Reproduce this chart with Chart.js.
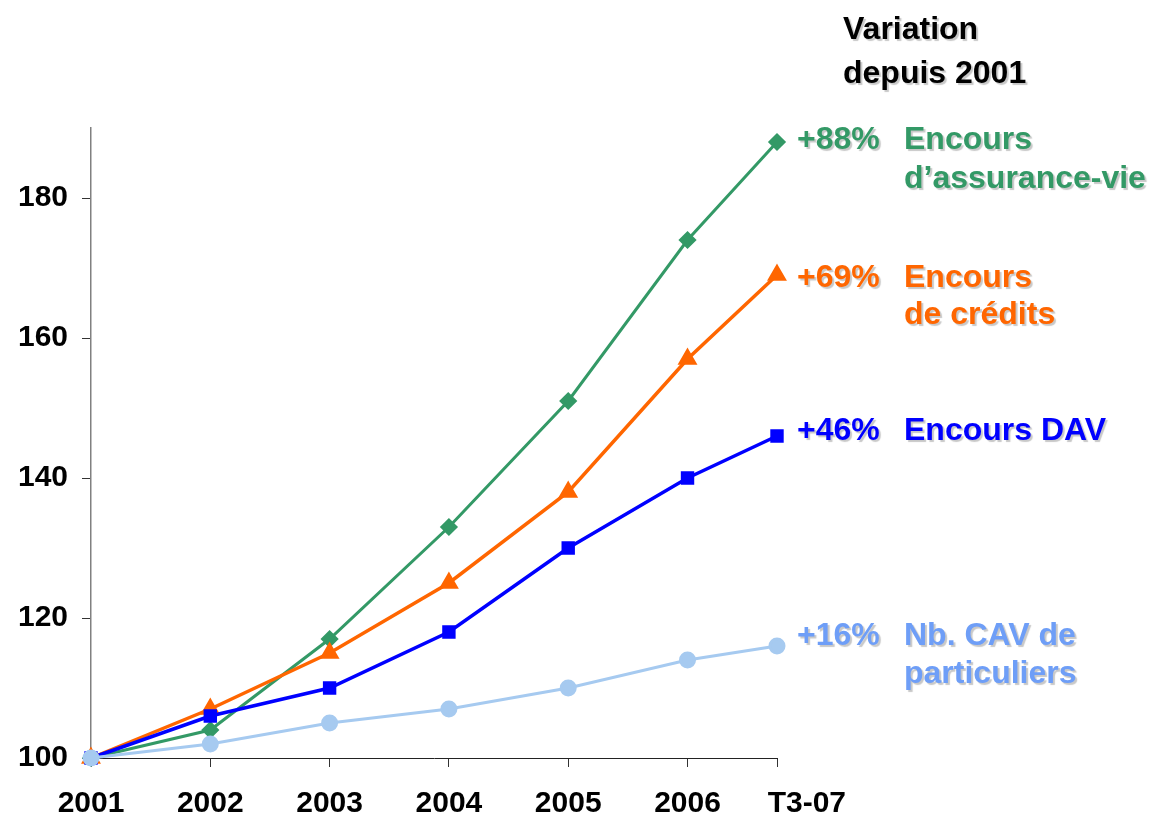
<!DOCTYPE html>
<html>
<head>
<meta charset="utf-8">
<script src="https://cdn.jsdelivr.net/npm/chart.js@4/dist/chart.umd.min.js"></script>
<style>
  html, body { margin: 0; padding: 0; background: #fff; }
  #wrap { width: 1149px; height: 820px; position: relative; }
</style>
</head>
<body>
<div id="wrap"><canvas id="c" width="1149" height="820"></canvas></div>
<script>
// ---- data ----
const periodLabels = ['2001', '2002', '2003', '2004', '2005', '2006', 'T3-07'];
const periodYears = [2001, 2002, 2003, 2004, 2005, 2006, 2006.75];
const assuranceVie = [100, 104, 117, 133, 151, 174, 188];
const credits = [100, 107, 115, 125, 138, 157, 169];
const dav = [100, 106, 110, 118, 130, 140, 146];
const nbCav = [100, 102, 105, 107, 110, 114, 116];
const yTicks = [100, 120, 140, 160, 180];
// x-axis tick marks sit at the data periods; labels sit on an even yearly grid
const xTickValues = [2001, 2002, 2003, 2004, 2005, 2006, 2006.75, 2007];
const xTickLabels = ['2001', '2002', '2003', '2004', '2005', '2006', '', 'T3-07'];

const FONT = '"Liberation Sans", Arial, sans-serif';

function pts(vals) { return vals.map((v, i) => ({ x: periodYears[i], y: v })); }

const annotations = [
  { text: 'Variation', x: 843, y: 39, color: '#000000' },
  { text: 'depuis 2001', x: 843, y: 83, color: '#000000' },
  { text: '+88%', x: 797, y: 149, color: '#339966' },
  { text: 'Encours', x: 904, y: 149, color: '#339966' },
  { text: 'd\u2019assurance-vie', x: 904, y: 188, color: '#339966' },
  { text: '+69%', x: 797, y: 287, color: '#FF6600' },
  { text: 'Encours', x: 904, y: 287, color: '#FF6600' },
  { text: 'de crédits', x: 904, y: 324, color: '#FF6600' },
  { text: '+46%', x: 797, y: 440, color: '#0000FF' },
  { text: 'Encours DAV', x: 904, y: 440, color: '#0000FF' },
  { text: '+16%', x: 797, y: 645, color: '#6E9EF7' },
  { text: 'Nb. CAV de', x: 904, y: 645, color: '#6E9EF7' },
  { text: 'particuliers', x: 904, y: 683, color: '#6E9EF7' }
];

const textPlugin = {
  id: 'annot',
  afterDraw(chart) {
    const ctx = chart.ctx;
    ctx.save();
    ctx.font = 'bold 32px ' + FONT;
    ctx.textAlign = 'left';
    ctx.textBaseline = 'alphabetic';
    annotations.forEach(a => {
      ctx.shadowColor = 'rgba(0,0,0,0.22)';
      ctx.shadowOffsetX = 2;
      ctx.shadowOffsetY = 2;
      ctx.shadowBlur = 1;
      ctx.fillStyle = a.color;
      ctx.fillText(a.text, a.x, a.y);
    });
    ctx.restore();
  }
};

const bgPlugin = {
  id: 'bg',
  beforeDraw(chart) {
    const ctx = chart.ctx;
    ctx.save();
    ctx.fillStyle = '#fff';
    ctx.fillRect(0, 0, chart.width, chart.height);
    ctx.restore();
  }
};

new Chart(document.getElementById('c'), {
  type: 'line',
  data: {
    datasets: [
      {
        label: 'Nb. CAV de particuliers', data: pts(nbCav), order: 0,
        borderColor: '#A6CAF0', backgroundColor: '#A6CAF0', borderWidth: 3,
        pointStyle: 'circle', pointRadius: 7, pointHoverRadius: 7, clip: false
      },
      {
        label: 'Encours DAV', data: pts(dav), order: 1,
        borderColor: '#0000FF', backgroundColor: '#0000FF', borderWidth: 3.5,
        pointStyle: 'rect', pointRadius: 7, pointHoverRadius: 7, clip: false
      },
      {
        label: 'Encours de crédits', data: pts(credits), order: 2,
        borderColor: '#FF6600', backgroundColor: '#FF6600', borderWidth: 3.5,
        pointStyle: 'triangle', pointRadius: 8, pointHoverRadius: 8, clip: false
      },
      {
        label: 'Encours d\u2019assurance-vie', data: pts(assuranceVie), order: 3,
        borderColor: '#339966', backgroundColor: '#339966', borderWidth: 3,
        pointStyle: 'rectRot', pointRadius: 7, pointHoverRadius: 7, clip: false
      }
    ]
  },
  options: {
    responsive: false,
    animation: false,
    events: [],
    layout: { padding: { left: 0, right: 372, top: 128, bottom: 0 } },
    plugins: { legend: { display: false }, tooltip: { enabled: false } },
    elements: { line: { tension: 0 } },
    scales: {
      x: {
        type: 'linear',
        min: 2001, max: 2006.75,
        afterBuildTicks(scale) { scale.ticks = xTickValues.map(v => ({ value: v })); },
        afterFit(scale) { scale.height = 62; },
        ticks: {
          autoSkip: false, maxRotation: 0, padding: 19, color: '#000',
          font: { family: FONT, size: 30, weight: 'bold' },
          callback(value, index) { return xTickLabels[index]; }
        },
        grid: {
          drawOnChartArea: false, drawTicks: true, tickLength: 9, lineWidth: 1,
          color: (c) => (c.tick && c.tick.value > 2006.75 ? 'rgba(0,0,0,0)' : '#333')
        },
        border: { display: true, color: '#222', width: 1 }
      },
      y: {
        type: 'linear',
        min: 100, max: 190,
        afterBuildTicks(scale) { scale.ticks = yTicks.map(v => ({ value: v })); },
        afterFit(scale) { scale.width = 91; },
        ticks: {
          padding: 14, color: '#000',
          font: { family: FONT, size: 30, weight: 'bold' }
        },
        grid: { drawOnChartArea: false, drawTicks: true, tickLength: 9, color: '#333', lineWidth: 1 },
        border: { display: true, color: '#808080', width: 1.5 }
      }
    }
  },
  plugins: [bgPlugin, textPlugin]
});
</script>
</body>
</html>
